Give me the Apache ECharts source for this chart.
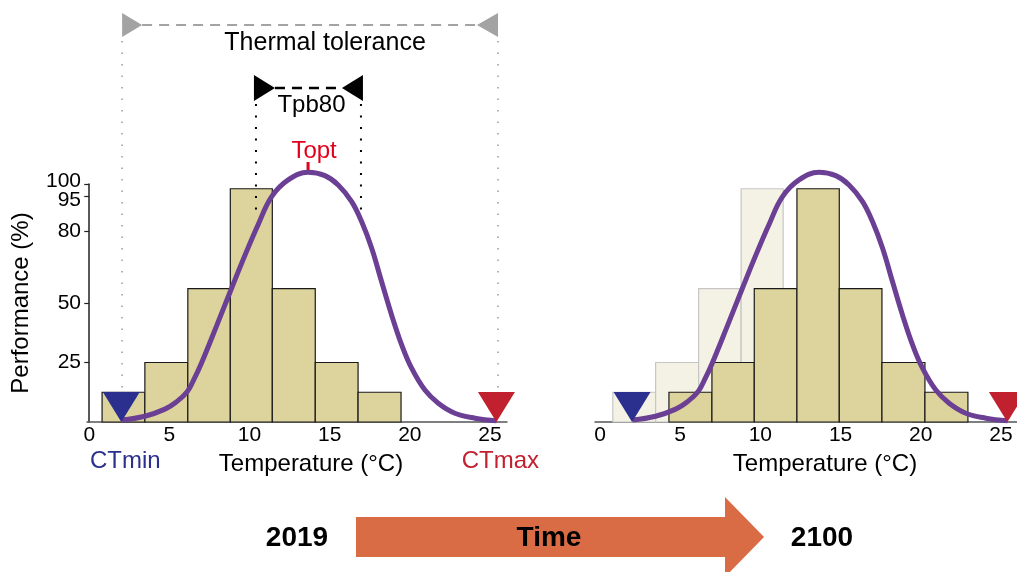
<!DOCTYPE html>
<html>
<head>
<meta charset="utf-8">
<script src="https://cdn.jsdelivr.net/npm/echarts@6/dist/echarts.min.js"></script>
<style>html,body{margin:0;padding:0;background:#fff}#c{width:1017px;height:572px}</style>
</head>
<body>
<div id="c"></div>
<script>
// ---- data ----
const xTickValues = [0, 5, 10, 15, 20, 25];
const yTickValues = [25, 50, 80, 95, 100];
const yLabelValues = [25, 50, 80, 100];
const yLabelValuesExtra = [95];

// histogram bins (temperature edges, °C) and heights (%)
const binEdges2019 = [0.8, 3.47, 6.15, 8.8, 11.42, 14.1, 16.77, 19.45];
const binHeights2019 = [12.5, 25, 56, 98, 56, 25, 12.5];
const binEdges2100 = [4.3, 6.98, 9.62, 12.28, 14.92, 17.58, 20.26, 22.94];
const binHeights2100 = [12.5, 25, 56, 98, 56, 25, 12.5];

// thermal performance curve (temperature °C, performance %)
const curveTemp = [2.02, 3.47, 4.72, 5.41, 6.11, 6.56, 7.01, 7.95, 8.88, 9.71, 10.54, 11.38, 12.41, 13.66, 14.7, 15.53, 16.37, 16.99, 17.62, 18.24, 18.86, 19.49, 20.11, 20.94, 21.77, 22.81, 24.06, 25.41];
const curvePerf = [0.8, 2.4, 5.4, 8.3, 12.7, 18.3, 24.9, 40.5, 56.2, 70.0, 83.0, 94.7, 101.7, 104.9, 103.5, 99.6, 92.6, 84.2, 73.0, 58.9, 45.0, 32.4, 22.6, 13.4, 7.9, 3.7, 1.6, 0.5];

const markerTemps = [2.0, 25.4];          // CTmin, CTmax
const markerNames = ['CTmin', 'CTmax'];
const markerColors = ['#2b2f8e', '#c1202f'];
const thermalTolerance = [2.05, 25.5];
const tpb80 = [10.4, 16.95];
const tOpt = 13.65;

const FONT = '"Liberation Sans", Arial, Helvetica, sans-serif';

const chart = echarts.init(document.getElementById('c'), null, {renderer: 'canvas'});

function binData(edges, heights) {
  return heights.map((h, i) => [edges[i], edges[i + 1], h]);
}
function barRender(fill, stroke) {
  return function (params, api) {
    const p0 = api.coord([api.value(0), api.value(2)]);
    const p1 = api.coord([api.value(1), 0]);
    return {
      type: 'rect',
      shape: {x: p0[0], y: p0[1], width: p1[0] - p0[0], height: p1[1] - p0[1]},
      style: {fill: fill, stroke: stroke, lineWidth: 1.2}
    };
  };
}
function markerRender(withLabels) {
  return function (params, api) {
    const p = api.coord([api.value(0), 0]);
    const children = [{
      type: 'polygon',
      shape: {points: [[p[0] - 18.5, p[1] - 30], [p[0] + 18.5, p[1] - 30], [p[0], p[1]]]},
      style: {fill: markerColors[params.dataIndex]}
    }];
    if (withLabels) {
      children.push({
        type: 'text', x: p[0] + 4, y: 461,
        style: {text: markerNames[params.dataIndex], fill: markerColors[params.dataIndex],
                fontSize: 24, fontFamily: FONT, align: 'center', verticalAlign: 'middle'}
      });
    }
    return {type: 'group', children: children};
  };
}
function annotationRender(params, api) {
  const xa = api.coord([api.value(0), 0])[0];
  const xb = api.coord([api.value(1), 0])[0];
  const xl = api.coord([api.value(2), 0])[0];
  const xr = api.coord([api.value(3), 0])[0];
  const xt = api.coord([api.value(4), 0])[0];
  const grey = '#a3a3a3';
  return {
    type: 'group',
    children: [
      {type: 'line', shape: {x1: xa, y1: 41, x2: xa, y2: 388}, style: {stroke: '#9a9a9a', lineWidth: 1.5, lineDash: [1.5, 10]}},
      {type: 'line', shape: {x1: xb, y1: 41, x2: xb, y2: 388}, style: {stroke: '#9a9a9a', lineWidth: 1.5, lineDash: [1.5, 10]}},
      {type: 'line', shape: {x1: xa + 20, y1: 25, x2: xb - 21, y2: 25}, style: {stroke: grey, lineWidth: 2, lineDash: [10, 7]}},
      {type: 'polygon', shape: {points: [[xa, 13], [xa, 37], [xa + 20, 25]]}, style: {fill: grey}},
      {type: 'polygon', shape: {points: [[xb, 13], [xb, 37], [xb - 21, 25]]}, style: {fill: grey}},
      {type: 'text', x: (xa + xb) / 2 + 15, y: 43,
       style: {text: 'Thermal tolerance', fill: '#000', fontSize: 25, fontFamily: FONT, align: 'center', verticalAlign: 'middle'}},
      {type: 'line', shape: {x1: xl, y1: 104, x2: xl, y2: 216}, style: {stroke: '#000', lineWidth: 2, lineDash: [2, 9.5]}},
      {type: 'line', shape: {x1: xr, y1: 104, x2: xr, y2: 216}, style: {stroke: '#000', lineWidth: 2, lineDash: [2, 9.5]}},
      {type: 'line', shape: {x1: xl + 19, y1: 88, x2: xr - 19, y2: 88}, style: {stroke: '#000', lineWidth: 2.5, lineDash: [10, 7]}},
      {type: 'polygon', shape: {points: [[xl - 2, 75], [xl - 2, 101], [xl + 19, 88]]}, style: {fill: '#000'}},
      {type: 'polygon', shape: {points: [[xr + 2, 75], [xr + 2, 101], [xr - 19, 88]]}, style: {fill: '#000'}},
      {type: 'text', x: (xl + xr) / 2 + 3, y: 105,
       style: {text: 'Tpb80', fill: '#000', fontSize: 24, fontFamily: FONT, align: 'center', verticalAlign: 'middle'}},
      {type: 'line', shape: {x1: xt, y1: 162, x2: xt, y2: 170}, style: {stroke: '#e2001a', lineWidth: 3}},
      {type: 'text', x: xt + 6, y: 151,
       style: {text: 'Topt', fill: '#e2001a', fontSize: 24, fontFamily: FONT, align: 'center', verticalAlign: 'middle'}}
    ]
  };
}

const curveData = curveTemp.map((t, i) => [t, curvePerf[i]]);
const markerData = markerTemps.map(t => [t, 0]);

function xAxisFor(gridIndex, min, max, namePad) {
  return {
    type: 'value', gridIndex: gridIndex, min: min, max: max,
    splitLine: {show: false},
    axisTick: {show: false},
    axisLine: {show: true, onZero: false, lineStyle: {color: '#555', width: 1.5}},
    axisLabel: {customValues: xTickValues, fontSize: 21, color: '#000', fontFamily: FONT, margin: 3,
                hideOverlap: false, showMinLabel: true, showMaxLabel: true},
    name: 'Temperature (°C)', nameLocation: 'middle', nameGap: 30,
    nameTextStyle: {fontSize: 24, color: '#000', fontFamily: FONT, padding: [0, 0, 0, namePad]}
  };
}

const option = {
  animation: false,
  backgroundColor: '#fff',
  grid: [
    {left: 87, top: 184, width: 420, height: 238, outerBoundsMode: 'none', containLabel: false},
    {left: 595, top: 184, width: 422, height: 238, outerBoundsMode: 'none', containLabel: false}
  ],
  xAxis: [
    xAxisFor(0, -0.14, 26.06, 28),
    xAxisFor(1, -0.31, 26.0, 38)
  ],
  yAxis: [
    {
      type: 'value', gridIndex: 0, min: 0, max: 100, position: 'left', offset: 0,
      splitLine: {show: false},
      axisLine: {show: true, lineStyle: {color: '#222', width: 1.5}},
      axisTick: {show: true, customValues: yTickValues, length: 5, lineStyle: {color: '#222', width: 1.2}},
      axisLabel: {
        customValues: yLabelValues, fontSize: 21, color: '#000', fontFamily: FONT, margin: 6,
        hideOverlap: false, showMinLabel: true, showMaxLabel: true,
        formatter: function (v) { return v === 100 ? '{hi|100}' : String(v); },
        rich: {hi: {fontSize: 21, fontFamily: FONT, color: '#000', padding: [0, 0, 6, 0]}}
      },
      name: 'Performance (%)', nameLocation: 'middle', nameGap: 54,
      nameTextStyle: {fontSize: 24, color: '#000', fontFamily: FONT}
    },
    {type: 'value', gridIndex: 1, min: 0, max: 100, show: false},
    {
      type: 'value', gridIndex: 0, min: 0, max: 100, position: 'left', offset: 0,
      splitLine: {show: false},
      axisLine: {show: false},
      axisTick: {show: false},
      axisLabel: {
        customValues: yLabelValuesExtra, fontSize: 21, color: '#000', fontFamily: FONT, margin: 6,
        hideOverlap: false, showMinLabel: true, showMaxLabel: true,
        formatter: function (v) { return '{lo|' + v + '}'; },
        rich: {lo: {fontSize: 21, fontFamily: FONT, color: '#000', padding: [8, 0, 0, 0]}}
      }
    }
  ],
  series: [
    // left panel (2019)
    {type: 'custom', xAxisIndex: 0, yAxisIndex: 0, data: binData(binEdges2019, binHeights2019),
     encode: {x: [0, 1], y: 2}, renderItem: barRender('#ddd39c', '#1a1a1a'), z: 2},
    {type: 'line', xAxisIndex: 0, yAxisIndex: 0, data: curveData, smooth: 0.4, showSymbol: false, clip: false,
     lineStyle: {color: '#6a3f94', width: 5}, z: 3},
    {type: 'custom', xAxisIndex: 0, yAxisIndex: 0, data: markerData, renderItem: markerRender(true), z: 4},
    {type: 'custom', xAxisIndex: 0, yAxisIndex: 0,
     data: [[thermalTolerance[0], thermalTolerance[1], tpb80[0], tpb80[1], tOpt]],
     encode: {x: [0, 1, 2, 3, 4]}, renderItem: annotationRender, z: 5},
    // right panel (2100)
    {type: 'custom', xAxisIndex: 1, yAxisIndex: 1, data: binData(binEdges2019, binHeights2019),
     encode: {x: [0, 1], y: 2}, renderItem: barRender('#f4f2e4', '#c6c6c6'), z: 1},
    {type: 'custom', xAxisIndex: 1, yAxisIndex: 1, data: binData(binEdges2100, binHeights2100),
     encode: {x: [0, 1], y: 2}, renderItem: barRender('#ddd39c', '#1a1a1a'), z: 2},
    {type: 'line', xAxisIndex: 1, yAxisIndex: 1, data: curveData, smooth: 0.4, showSymbol: false, clip: false,
     lineStyle: {color: '#6a3f94', width: 5}, z: 3},
    {type: 'custom', xAxisIndex: 1, yAxisIndex: 1, data: markerData, renderItem: markerRender(false), z: 4}
  ],
  graphic: [
    {type: 'polygon', shape: {points: [[356, 517], [725, 517], [725, 497], [764, 537], [725, 577], [725, 557], [356, 557]]},
     style: {fill: '#d96c45'}},
    {type: 'text', x: 549, y: 538, style: {text: 'Time', fill: '#000', fontSize: 28, fontWeight: 'bold', fontFamily: FONT, align: 'center', verticalAlign: 'middle'}},
    {type: 'text', x: 297, y: 538, style: {text: '2019', fill: '#000', fontSize: 28, fontWeight: 'bold', fontFamily: FONT, align: 'center', verticalAlign: 'middle'}},
    {type: 'text', x: 822, y: 538, style: {text: '2100', fill: '#000', fontSize: 28, fontWeight: 'bold', fontFamily: FONT, align: 'center', verticalAlign: 'middle'}}
  ]
};
chart.setOption(option);
</script>
</body>
</html>
